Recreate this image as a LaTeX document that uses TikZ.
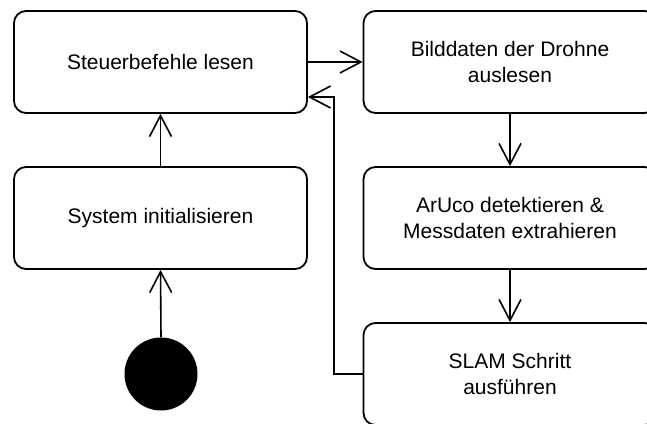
\documentclass[tikz,border=0pt]{standalone}
\usepackage{fontspec}
\setmainfont{Liberation Sans}
\usetikzlibrary{arrows.meta}
\begin{document}
\begin{tikzpicture}[x=1pt,y=-1pt,
  stepbox/.style={draw=black, line width=1.8pt, rounded corners=12pt,
    minimum width=293pt, minimum height=102pt, inner sep=0pt,
    align=center, font=\fontsize{21}{25.5}\selectfont},
  flow/.style={draw=black, line width=1.6pt,
    -{Straight Barb[length=21pt,width=22pt,line width=1.6pt]}}]
  \useasboundingbox (0,0) rectangle (647,423);
  % steps
  \node[stepbox] (read)   at (160.5,62)  {Steuerbefehle lesen};
  \node[stepbox] (init)   at (160.5,218) {System initialisieren};
  \node[stepbox] (image)  at (510,62)    {Bilddaten der Drohne\\auslesen};
  \node[stepbox] (aruco)  at (510,218)   {ArUco detektieren \&\\Messdaten extrahieren};
  \node[stepbox] (slam)   at (510,374)   {SLAM Schritt\\ausführen};
  % start state
  \node[circle, fill=black, minimum size=73pt, inner sep=0pt] (start) at (161,374) {};
  % transitions
  \draw[flow] (start.north) -- (init.south);
  \draw[flow] (init.north) -- (read.south);
  \draw[flow] (read.east) -- (image.west);
  \draw[flow] (image.south) -- (aruco.north);
  \draw[flow] (aruco.south) -- (slam.north);
  \coordinate (back) at (334,97);
  \draw[flow] (slam.west) -| (back) -- (read.east |- back);
\end{tikzpicture}
\end{document}
